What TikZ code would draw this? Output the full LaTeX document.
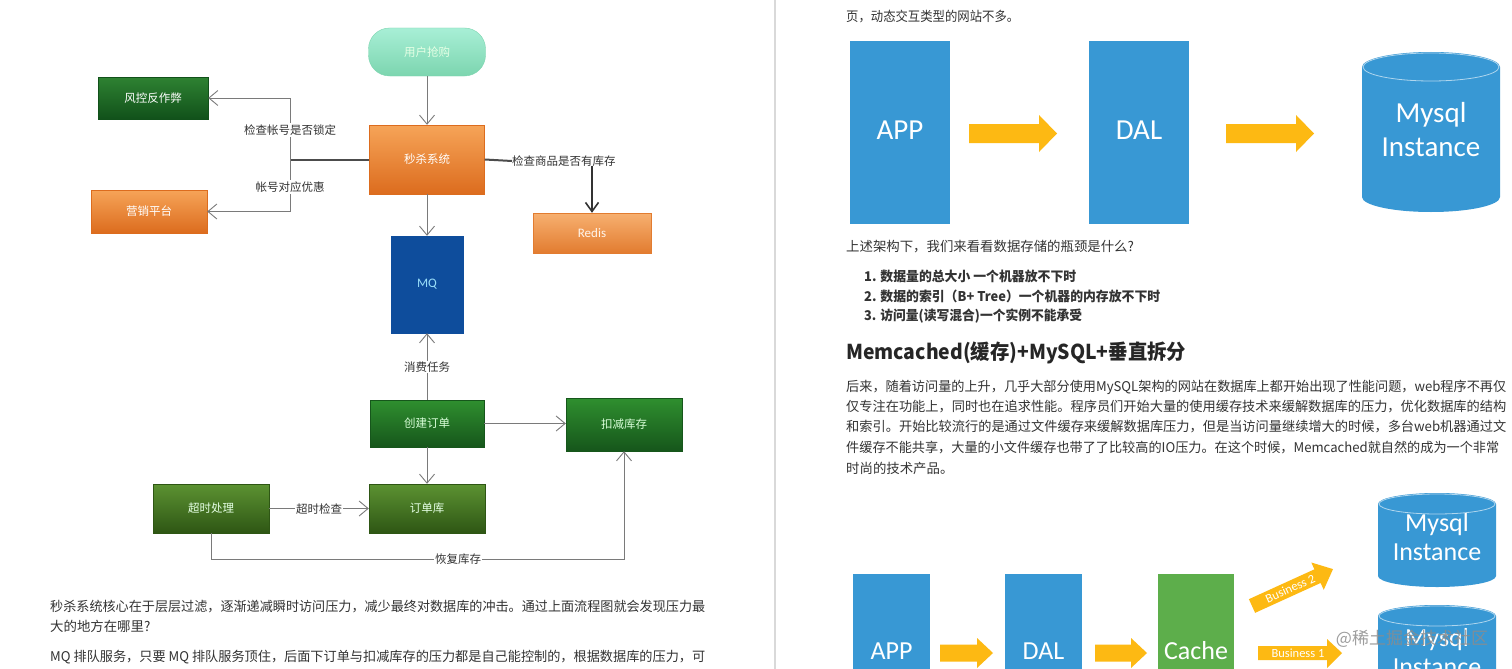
\documentclass[tikz,border=0pt]{standalone}
\usepackage{graphicx}
\usepackage{fontspec}
\setmainfont{Noto Sans CJK SC}
\newfontfamily\calib{Carlito}
\usetikzlibrary{arrows.meta}
\newcommand\myfs[1]{\fontsize{#1}{#1}\selectfont}
\newcommand\fitw[2]{\resizebox{#1}{\height}{#2}}
\definecolor{txt}{HTML}{333333}
\definecolor{lineg}{HTML}{7A7A7A}
\definecolor{mintT}{HTML}{A8EFD6}
\definecolor{mintB}{HTML}{7CD5AF}
\definecolor{dgT}{HTML}{2E8232}
\definecolor{dgB}{HTML}{11511A}
\definecolor{orT}{HTML}{F6A458}
\definecolor{orB}{HTML}{DC6C1E}
\definecolor{rdT}{HTML}{F7B070}
\definecolor{rdB}{HTML}{E27C30}
\definecolor{mqc}{HTML}{0E4D9C}
\definecolor{grT}{HTML}{2F8F2F}
\definecolor{grB}{HTML}{16561B}
\definecolor{olT}{HTML}{5C9232}
\definecolor{olB}{HTML}{2E5614}
\definecolor{bluec}{HTML}{3898D4}
\definecolor{cachec}{HTML}{5DAE4B}
\definecolor{yel}{HTML}{FDB913}
\begin{document}
\begin{tikzpicture}[x=1pt,y=-1pt,
  >={Straight Barb[length=9pt,width=15pt]},
  fb/.style={inner sep=0pt, font=\myfs{11.5}, line width=0.4pt},
  orangeb/.style={fb, top color=orT, bottom color=orB, draw=orB, text=white},
  redisb/.style={fb, top color=rdT, bottom color=rdB, draw=rdB, text=white!92!orange},
  dgreenb/.style={fb, top color=dgT, bottom color=dgB, draw=dgB, text=white},
  greenb/.style={fb, top color=grT, bottom color=grB, draw=grB, text=white!85!green},
  oliveb/.style={fb, top color=olT, bottom color=olB, draw=olB, text=white!90!green},
  lab/.style={fill=white, inner sep=1.2pt, font=\myfs{11.5}, text=txt},
  conn/.style={draw=lineg, line width=0.9pt},
  thickl/.style={draw=black!70, line width=2pt},
  body/.style={anchor=west, inner sep=0pt, font=\myfs{13.4}, text=txt},
  bbody/.style={anchor=west, inner sep=0pt, font=\myfs{13.4}\bfseries, text=txt},
  bigw/.style={inner sep=0pt, text=white, font=\calib\myfs{29}},
  bigw2/.style={inner sep=0pt, text=white, font=\calib\myfs{26}}
]
\useasboundingbox (0,0) rectangle (1512,669);
\clip (0,0) rectangle (1512,669);
\fill[white] (0,0) rectangle (1512,669);
\draw[black!15, line width=1.5pt] (775,0) -- (775,669);

% ---------------- left flowchart ----------------
\node[fb, top color=mintT, bottom color=mintB, draw=mintB, rounded corners=21pt,
      minimum width=117pt, minimum height=48pt, text=white!90!green] (ug) at (427,52) {用户抢购};
\node[dgreenb, minimum width=110pt, minimum height=42pt] (fk) at (153,98) {风控反作弊};
\node[orangeb, minimum width=116pt, minimum height=43pt] (yx) at (149,211.5) {营销平台};
\node[orangeb, minimum width=115pt, minimum height=69pt] (ms) at (427,159.5) {秒杀系统};
\node[redisb, minimum width=118pt, minimum height=40pt] (rd) at (592,233) {\calib\myfs{13}Redis};
\node[fb, fill=mqc, draw=mqc, text=cyan!40!white, minimum width=72pt, minimum height=97pt] (mq) at (427,284.5) {\calib\myfs{13}MQ};
\node[greenb, minimum width=114pt, minimum height=47pt] (cj) at (427,423.5) {创建订单};
\node[greenb, minimum width=116pt, minimum height=53pt] (kj) at (624,424.5) {扣减库存};
\node[oliveb, minimum width=116pt, minimum height=49pt] (dd) at (427,508.5) {订单库};
\node[oliveb, minimum width=116pt, minimum height=49pt] (cs) at (211,508.5) {超时处理};

\draw[conn,->] (ug.south) -- (ms.north);
\draw[conn,->] (ms.south) -- (mq.north);
\coordinate (jL) at (290,160);
\draw[thickl] (ms.west) -- (ms.west -| jL);
\draw[conn,<->] (fk.east) -- (fk.east -| jL) -- (yx.east -| jL) -- (yx.east);
\node[lab] (l1) at (290,130) {检查帐号是否锁定};
\node[lab] (l2) at (290,187) {帐号对应优惠};
\node[lab, anchor=west, inner sep=0pt] (lr) at (512,161) {检查商品是否有库存};
\draw[thickl] (ms.east) -- (lr.west);
\draw[draw=black!80, line width=1.6pt, -{Straight Barb[length=9pt,width=13pt]}] (lr.south -| rd.north) ++(0,-1) -- (rd.north);

\draw[conn,->] (cj.north) -- (mq.south);
\node[lab] (l3) at (427,367) {消费任务};
\draw[conn,->] (cj.east) -- (cj.east -| kj.west);
\draw[conn,->] (cj.south) -- (dd.north);
\draw[conn,->] (cs.east) -- (dd.west);
\node[lab] (l4) at (319,509) {超时检查};
\coordinate (rb) at (0,559);
\draw[conn,->] (cs.south) -- (cs.south |- rb) -- (kj.south |- rb) -- (kj.south);
\node[lab] (l5) at (458,559) {恢复库存};

% left text
\node[body] (t1) at (50,607) {\fitw{655pt}{秒杀系统核心在于层层过滤，逐渐递减瞬时访问压力，减少最终对数据库的冲击。通过上面流程图就会发现压力最}};
\node[body] (t2) at (50,626) {大的地方在哪里?};
\node[body] (t3) at (50,657) {\fitw{655pt}{MQ 排队服务，只要 MQ 排队服务顶住，后面下订单与扣减库存的压力都是自己能控制的，根据数据库的压力，可}};

% ---------------- right page ----------------
\node[body] (r0) at (846,17) {\fitw{173pt}{页，动态交互类型的网站不多。}};

% top diagram
\fill[bluec] (850,41) rectangle (950,224);
\node[bigw] (app1) at (900,130) {APP};
\fill[bluec] (1089,41) rectangle (1189,224);
\node[bigw] (dal1) at (1139,130) {DAL};
\fill[yel] (969,124) -- (1039,124) -- (1039,115) -- (1057,133.5) -- (1039,152) -- (1039,143) -- (969,143) -- cycle;
\fill[yel] (1226,124) -- (1296,124) -- (1296,115) -- (1314,133.5) -- (1296,152) -- (1296,143) -- (1226,143) -- cycle;
\fill[bluec] (1362,67) -- (1362,197) arc[start angle=180,end angle=360,x radius=69pt,y radius=15pt]
   -- (1500,67) arc[start angle=0,end angle=180,x radius=69pt,y radius=15pt] -- cycle;
\draw[white!60!bluec, line width=0.8pt] (1431,67) ellipse [x radius=68pt, y radius=14pt];
\node[bigw] (my1) at (1431,115) {Mysql};
\node[bigw] (in1) at (1431,147) {Instance};

\node[body] (r1) at (846,247) {上述架构下，我们来看看数据存储的瓶颈是什么?};
\node[bbody] (r2) at (864,276) {\fitw{212pt}{1. 数据量的总大小 一个机器放不下时}};
\node[bbody] (r3) at (864,296) {\fitw{296pt}{2. 数据的索引（B+ Tree）一个机器的内存放不下时}};
\node[bbody] (r4) at (864,316) {\fitw{218pt}{3. 访问量(读写混合)一个实例不能承受}};
\node[anchor=west, inner sep=0pt, font=\myfs{20.5}\bfseries, text=black!85] (hd) at (846,353) {\fitw{340pt}{Memcached(缓存)+MySQL+垂直拆分}};
\node[body] (p1) at (846,387) {\fitw{660pt}{后来，随着访问量的上升，几乎大部分使用MySQL架构的网站在数据库上都开始出现了性能问题，web程序不再仅}};
\node[body] (p2) at (846,407) {\fitw{660pt}{仅专注在功能上，同时也在追求性能。程序员们开始大量的使用缓存技术来缓解数据库的压力，优化数据库的结构}};
\node[body] (p3) at (846,427) {\fitw{660pt}{和索引。开始比较流行的是通过文件缓存来缓解数据库压力，但是当访问量继续增大的时候，多台web机器通过文}};
\node[body] (p4) at (846,448) {\fitw{653pt}{件缓存不能共享，大量的小文件缓存也带了了比较高的IO压力。在这个时候，Memcached就自然的成为一个非常}};
\node[body] (p5) at (846,468) {时尚的技术产品。};

% bottom diagram
\fill[bluec] (853,574) rectangle (930,680);
\node[bigw2] (app2) at (891.5,651) {APP};
\fill[bluec] (1005,574) rectangle (1082,680);
\node[bigw2] (dal2) at (1043.5,651) {DAL};
\fill[cachec] (1158,574) rectangle (1234,680);
\node[bigw2] (cache) at (1196,651) {Cache};
\fill[yel] (940,644.5) -- (977,644.5) -- (977,638) -- (993,653) -- (977,668) -- (977,661.5) -- (940,661.5) -- cycle;
\fill[yel] (1095,644.5) -- (1131,644.5) -- (1131,638) -- (1147,653) -- (1131,668) -- (1131,661.5) -- (1095,661.5) -- cycle;
\fill[yel] (1258,646) -- (1327,646) -- (1327,639) -- (1342,653) -- (1327,668) -- (1327,660) -- (1258,660) -- cycle;
\node[inner sep=0pt, text=white, font=\calib\myfs{12.5}] (b1) at (1298,653) {Business 1};
\begin{scope}[shift={(1252,606)}, rotate=24.5]
  \fill[yel] (0,-7.5) -- (72,-7.5) -- (72,-15) -- (89,0) -- (72,15) -- (72,7.5) -- (0,7.5) -- cycle;
  \node[inner sep=0pt, text=white, font=\calib\myfs{12.5}, rotate=24.5] (b2) at (42,0) {Business 2};
\end{scope}
\fill[bluec] (1378,504) -- (1378,576) arc[start angle=180,end angle=360,x radius=59pt,y radius=11pt]
   -- (1496,504) arc[start angle=0,end angle=180,x radius=59pt,y radius=11pt] -- cycle;
\draw[white!60!bluec, line width=0.8pt] (1437,504) ellipse [x radius=58pt, y radius=10pt];
\node[bigw2] (my2) at (1437,525) {Mysql};
\node[bigw2] (in2) at (1437,552) {Instance};
\fill[bluec] (1378,616) -- (1378,700) -- (1496,700) -- (1496,616) arc[start angle=0,end angle=180,x radius=59pt,y radius=11pt] -- cycle;
\draw[white!60!bluec, line width=0.8pt] (1437,616) ellipse [x radius=58pt, y radius=10pt];
\node[bigw2] (my3) at (1437,640) {Mysql};
\node[bigw2] (in3) at (1437,667) {Instance};
\node[inner sep=0pt, text=black!45, opacity=0.85, font=\myfs{17}] (wm) at (1412,639) {@稀土掘金技术社区};
\end{tikzpicture}
\end{document}
